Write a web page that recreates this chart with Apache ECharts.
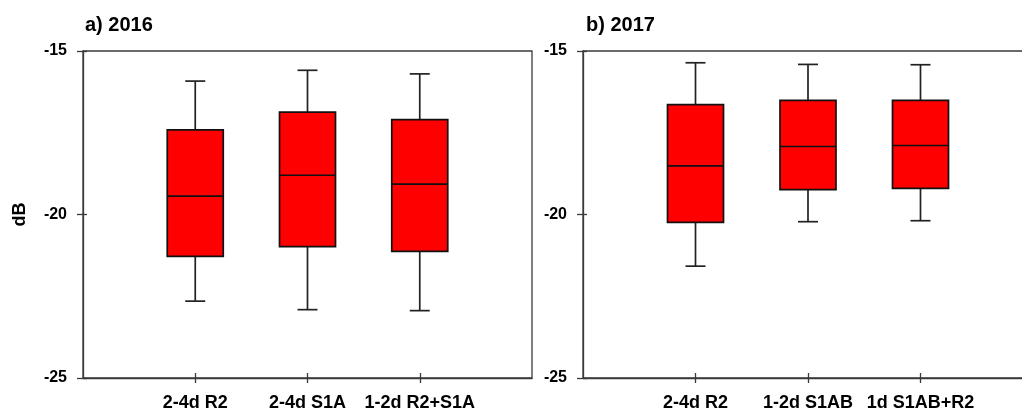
<!DOCTYPE html>
<html>
<head>
<meta charset="utf-8">
<script src="https://cdn.jsdelivr.net/npm/echarts@6/dist/echarts.min.js"></script>
<style>
  html, body { margin: 0; padding: 0; background: #ffffff; }
  #chart { width: 1022px; height: 411px; }
</style>
</head>
<body>
<div id="chart"></div>
<script>
// Backscatter (dB) distributions per acquisition combination

// a) 2016
const categories2016 = ['2-4d R2', '2-4d S1A', '1-2d R2+S1A'];
const whiskerLow2016  = [-22.65, -22.91, -22.94];
const q1_2016         = [-21.28, -20.98, -21.13];
const median2016      = [-19.44, -18.80, -19.07];
const q3_2016         = [-17.41, -16.87, -17.10];
const whiskerHigh2016 = [-15.92, -15.59, -15.70];

// b) 2017
const categories2017 = ['2-4d R2', '1-2d S1AB', '1d S1AB+R2'];
const whiskerLow2017  = [-21.58, -20.22, -20.19];
const q1_2017         = [-20.24, -19.24, -19.20];
const median2017      = [-18.51, -17.92, -17.89];
const q3_2017         = [-16.64, -16.51, -16.51];
const whiskerHigh2017 = [-15.36, -15.41, -15.42];

const panelTitles = ['a) 2016', 'b) 2017'];
const yMin = -25, yMax = -15, yStep = 5;

const BOX_WIDTH = 56;
const CAP_WIDTH = 20;
const FONT = 'Liberation Sans, Arial, sans-serif';

// category axis padded with an empty slot at each end so boxes sit at 1/4, 2/4, 3/4
function paddedCategories(cats) { return [''].concat(cats, ['']); }

function boxRows(low, q1, med, q3, high) {
  return low.map((v, i) => [i + 1, v, q1[i], med[i], q3[i], high[i]]);
}

function renderBox(params, api) {
  const x = api.value(0);
  const pLow  = api.coord([x, api.value(1)]);
  const pQ1   = api.coord([x, api.value(2)]);
  const pMed  = api.coord([x, api.value(3)]);
  const pQ3   = api.coord([x, api.value(4)]);
  const pHigh = api.coord([x, api.value(5)]);
  const cx = pMed[0];
  const half = BOX_WIDTH / 2;
  const cap = CAP_WIDTH / 2;
  const whisker = { stroke: '#222', lineWidth: 1.7 };
  return {
    type: 'group',
    children: [
      { type: 'line', shape: { x1: cx, y1: pHigh[1], x2: cx, y2: pQ3[1] }, style: whisker },
      { type: 'line', shape: { x1: cx - cap, y1: pHigh[1], x2: cx + cap, y2: pHigh[1] }, style: whisker },
      { type: 'line', shape: { x1: cx, y1: pQ1[1], x2: cx, y2: pLow[1] }, style: whisker },
      { type: 'line', shape: { x1: cx - cap, y1: pLow[1], x2: cx + cap, y2: pLow[1] }, style: whisker },
      { type: 'rect', shape: { x: cx - half, y: pQ3[1], width: BOX_WIDTH, height: pQ1[1] - pQ3[1] },
        style: { fill: '#ff0000', stroke: '#111', lineWidth: 1.7 } },
      { type: 'line', shape: { x1: cx - half, y1: pMed[1], x2: cx + half, y2: pMed[1] },
        style: { stroke: '#111', lineWidth: 1.7 } }
    ]
  };
}

const axisColor = '#3a3a3a';

function mainXAxis(gridIndex, cats) {
  return {
    type: 'category', gridIndex: gridIndex, position: 'bottom',
    data: paddedCategories(cats), boundaryGap: false,
    axisLine: { show: true, lineStyle: { color: axisColor, width: 1.3 } },
    axisTick: { show: true, length: 5, interval: (i) => i >= 1 && i <= cats.length,
                lineStyle: { color: axisColor, width: 1.3 } },
    axisLabel: { interval: 0, margin: 16, color: '#000', fontFamily: FONT, fontWeight: 'bold', fontSize: 18 },
    splitLine: { show: false }
  };
}
function innerXAxis(gridIndex, cats) {
  return {
    type: 'category', gridIndex: gridIndex, position: 'bottom',
    data: paddedCategories(cats), boundaryGap: false,
    axisLine: { show: false },
    axisTick: { show: true, inside: true, length: 5, interval: (i) => i >= 1 && i <= cats.length,
                lineStyle: { color: axisColor, width: 1.3 } },
    axisLabel: { show: false }, splitLine: { show: false }
  };
}
function mainYAxis(gridIndex, name) {
  return {
    type: 'value', gridIndex: gridIndex, position: 'left',
    min: yMin, max: yMax, interval: yStep,
    name: name, nameLocation: 'middle', nameGap: 54,
    nameTextStyle: { color: '#000', fontFamily: FONT, fontWeight: 'bold', fontSize: 18 },
    axisLine: { show: true, lineStyle: { color: axisColor, width: 1.3 } },
    axisTick: { show: true, length: 6, lineStyle: { color: axisColor, width: 1.3 } },
    axisLabel: { margin: 16, color: '#000', fontFamily: FONT, fontWeight: 'bold', fontSize: 16 },
    splitLine: { show: false }
  };
}
function innerYAxis(gridIndex) {
  return {
    type: 'value', gridIndex: gridIndex, position: 'left',
    min: yMin, max: yMax, interval: yStep,
    axisLine: { show: false },
    axisTick: { show: true, inside: true, length: 4, lineStyle: { color: axisColor, width: 1.3 } },
    axisLabel: { show: false }, splitLine: { show: false }
  };
}

const chart = echarts.init(document.getElementById('chart'), null, { renderer: 'canvas' });

chart.setOption({
  animation: false,
  backgroundColor: '#ffffff',
  title: [
    { text: panelTitles[0], left: 80, top: 10,
      textStyle: { color: '#000', fontFamily: FONT, fontWeight: 'bold', fontSize: 20 } },
    { text: panelTitles[1], left: 581, top: 10,
      textStyle: { color: '#000', fontFamily: FONT, fontWeight: 'bold', fontSize: 20 } }
  ],
  grid: [
    { left: 83, top: 51, width: 449, height: 327, outerBoundsMode: 'none',
      show: true, borderColor: axisColor, borderWidth: 1.3 },
    // the right-hand frame runs past the page edge
    { left: 583, top: 51, width: 450, height: 327, outerBoundsMode: 'none',
      show: true, borderColor: axisColor, borderWidth: 1.3 }
  ],
  xAxis: [
    mainXAxis(0, categories2016), innerXAxis(0, categories2016),
    mainXAxis(1, categories2017), innerXAxis(1, categories2017)
  ],
  yAxis: [
    mainYAxis(0, 'dB'), innerYAxis(0),
    mainYAxis(1, ''), innerYAxis(1)
  ],
  series: [
    {
      type: 'custom', name: panelTitles[0], xAxisIndex: 0, yAxisIndex: 0,
      renderItem: renderBox, encode: { x: 0, y: [1, 2, 3, 4, 5] },
      data: boxRows(whiskerLow2016, q1_2016, median2016, q3_2016, whiskerHigh2016)
    },
    {
      type: 'custom', name: panelTitles[1], xAxisIndex: 2, yAxisIndex: 2,
      renderItem: renderBox, encode: { x: 0, y: [1, 2, 3, 4, 5] },
      data: boxRows(whiskerLow2017, q1_2017, median2017, q3_2017, whiskerHigh2017)
    }
  ]
});
</script>
</body>
</html>
